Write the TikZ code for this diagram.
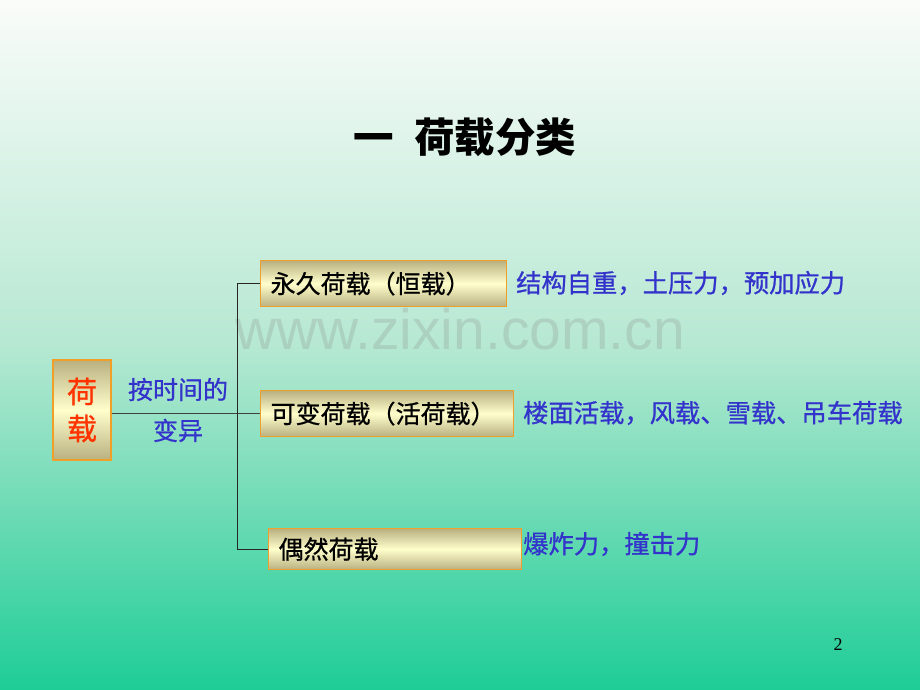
\documentclass[tikz,border=0pt]{standalone}
\usepackage{fontspec}
\setmainfont{Liberation Serif}
\newfontfamily\cjk{Noto Sans CJK SC}
\newfontfamily\cjkm[FakeBold=0.8]{Noto Sans CJK SC}
\newfontfamily\wmfont{Liberation Sans}
\definecolor{bgtop}{RGB}{250,252,250}
\definecolor{bgmid}{RGB}{182,232,210}
\definecolor{bgbot}{RGB}{30,205,150}
\definecolor{boxtan}{RGB}{185,176,128}
\definecolor{boxlight}{RGB}{255,255,204}
\definecolor{boxedge}{RGB}{240,160,40}
\definecolor{textblue}{RGB}{51,51,204}
\definecolor{loadred}{RGB}{255,51,0}
\begin{document}
\begin{tikzpicture}[x=1pt, y=-1pt,
    kind/.style={draw=boxedge, line width=1.2pt, top color=boxtan, bottom color=boxtan,
        middle color=boxlight, inner xsep=10pt, inner ysep=0pt, align=left,
        anchor=north west, font=\cjkm\fontsize{25}{25}\selectfont},
    example/.style={text=textblue, anchor=west, inner sep=0pt, font=\cjkm\fontsize{25.3}{25}\selectfont}]
    % hatter
    \shade[top color=bgtop, bottom color=bgbot, middle color=bgmid] (0,0) rectangle (920,690);
    \node[text=gray, opacity=0.22, font=\wmfont\fontsize{57}{57}\selectfont] (wm) at (460,329) {www.zixin.com.cn};
    \node[font=\cjk\bfseries\fontsize{40.5}{40}\selectfont] (title) at (465,137) {一\hspace{0.5em}荷载分类};
    % bal oldali doboz
    \node[kind, anchor=center, text=loadred, inner xsep=0pt, minimum width=58pt, minimum height=100pt,
        align=center, font=\cjkm\fontsize{30}{37}\selectfont] (load) at (82,410) {荷\\载};
    \node[text=textblue, align=center, font=\cjkm\fontsize{25}{41}\selectfont] (time) at (178,410) {按时间的\\变异};
    % harom fajta
    \node[kind, text width=226pt, minimum height=46pt] (perm) at (260,260) {永久荷载（恒载）};
    \node[kind, text width=233pt, minimum height=46pt] (var) at (260,390) {可变荷载（活荷载）};
    \node[kind, text width=233pt, minimum height=41pt] (acc) at (268,528) {偶然荷载};
    \node[example] (permex) at (516,283) {结构自重，土压力，预加应力};
    \node[example] (varex) at (523,413) {楼面活载，风载、雪载、吊车荷载};
    \node[example] (accex) at (523,544) {爆炸力，撞击力};
    \coordinate (trunk) at (237,413);
    \draw[black!75, line width=1pt] (load.east |- var.west) -- (var.west);
    \draw[black!85, line width=1pt] (perm.west) -- (perm.west -| trunk) |- (acc.west);
    \node[font=\fontsize{18}{18}\selectfont] (page) at (838,645) {2};
\end{tikzpicture}
\end{document}
